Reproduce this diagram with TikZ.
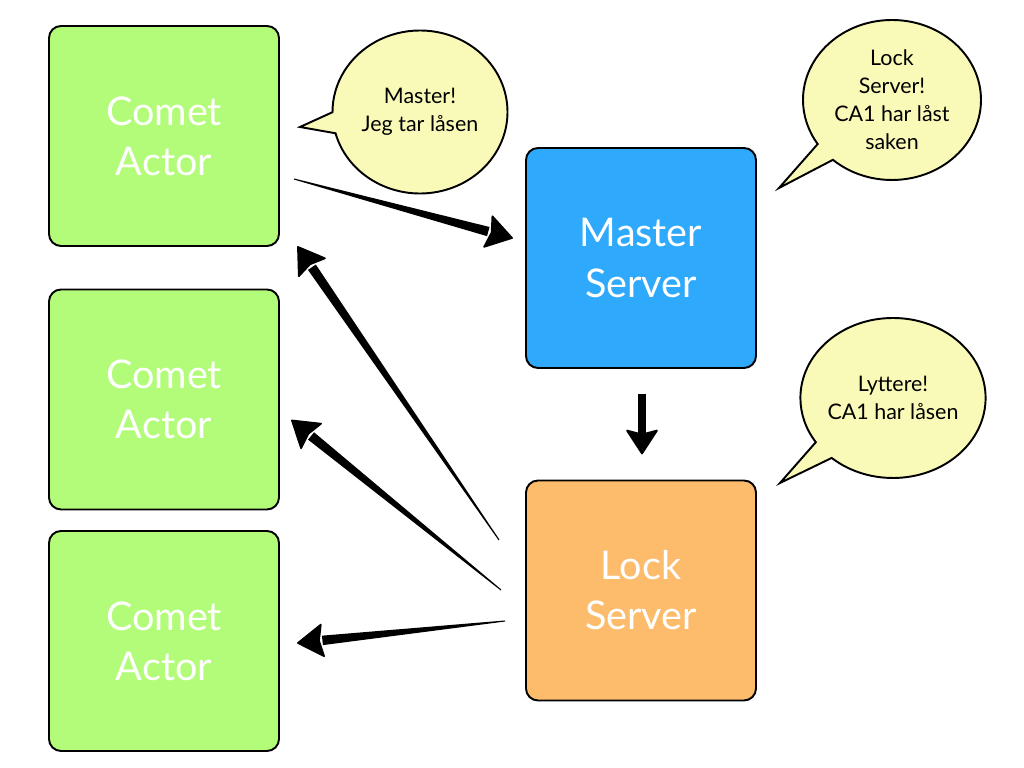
\documentclass[tikz,border=0pt]{standalone}
\usepackage{fontspec}
\setmainfont{Lato}
\usetikzlibrary{calc, shapes.callouts}

\definecolor{actorgreen}{HTML}{B3FC79}
\definecolor{masterblue}{HTML}{2FA9FC}
\definecolor{lockorange}{HTML}{FDBC6C}
\definecolor{bubbleyellow}{HTML}{FAFAB8}

\tikzset{
  box/.style={draw=black, line width=1.1pt, rounded corners=0.24cm,
    minimum width=4.6cm, minimum height=4.4cm, align=center,
    text=white, font=\fontsize{22.5}{28.5}\selectfont},
  bubble/.style={ellipse callout, draw=black, line width=1.1pt,
    fill=bubbleyellow, align=center, inner sep=0pt,
    font=\fontsize{12.2}{16}\selectfont},
}

% tapered brush arrow from #1 to #2
\newcommand{\brusharrow}[2]{%
  \coordinate (bA) at (#1);
  \coordinate (bB) at (#2);
  \coordinate (bC) at ($(bB)!14pt!(bA)$);
  \fill ($(bA)!0.3pt!90:(bB)$) -- ($(bC)!2.7pt!-90:(bA)$)
    -- ($(bC)!2.7pt!90:(bA)$) -- ($(bA)!0.3pt!-90:(bB)$) -- cycle;
  \fill[line join=round, draw, line width=1pt]
    ($(bC)!9pt!90:(bA)$) -- (bB) -- ($(bC)!9pt!-90:(bA)$)
    -- ($(bC)!2pt!(bB)$) -- cycle;
}

\begin{document}
\begin{tikzpicture}
  \useasboundingbox[fill=white] (0,0) rectangle (20.48,15.36);

  % Actors
  \node[box, fill=actorgreen] (actorA) at (3.28,12.64) {Comet\\Actor};
  \node[box, fill=actorgreen] (actorB) at (3.28,7.37) {Comet\\Actor};
  \node[box, fill=actorgreen] (actorC) at (3.28,2.54) {Comet\\Actor};

  % Servers
  \node[box, fill=masterblue] (master) at (12.82,10.2) {Master\\Server};
  \node[box, fill=lockorange] (lock) at (12.82,3.55) {Lock\\Server};

  % Speech bubbles
  \node[bubble, minimum width=3.5cm, minimum height=3.26cm,
    callout absolute pointer={(6.0,12.82)}] (bubA) at (8.4,13.12)
    {Master!\\Jeg tar låsen};
  \node[bubble, minimum width=3.56cm, minimum height=3.2cm,
    callout absolute pointer={(15.58,11.6)}] (bubB) at (17.84,13.36)
    {Lock\\Server!\\CA1 har låst\\saken};
  \node[bubble, minimum width=3.52cm, minimum height=3.2cm,
    callout absolute pointer={(15.6,5.7)}] (bubC) at (17.86,7.4)
    {Lyttere!\\CA1 har låsen};

  % Arrows
  \coordinate (a1s) at ($(actorA.east)+(0.28,-0.86)$);
  \coordinate (a1e) at ($(master.west)+(-0.26,0.4)$);
  \coordinate (a2s) at ($(lock.west)+(-0.52,1.01)$);
  \coordinate (a2e) at ($(actorA.south east)+(0.36,0.0)$);
  \coordinate (a3s) at ($(lock.west)+(-0.48,0.01)$);
  \coordinate (a3e) at ($(actorB.east)+(0.24,-0.42)$);
  \coordinate (a4s) at ($(lock.west)+(-0.4,-0.61)$);
  \coordinate (a4e) at ($(actorC.east)+(0.36,-0.04)$);
  \coordinate (a5s) at ($(master.south)+(0.02,-0.5)$);
  \coordinate (a5e) at ($(lock.north)+(0.02,0.52)$);

  \brusharrow{a1s}{a1e}
  \brusharrow{a2s}{a2e}
  \brusharrow{a3s}{a3e}
  \brusharrow{a4s}{a4e}
  \draw[line width=4pt] (a5s) -- ($(a5e)+(0,0.4)$);
  \fill[line join=round, draw, line width=1pt]
    ($(a5e)+(-0.3,0.46)$) -- (a5e) -- ($(a5e)+(0.3,0.46)$)
    -- ($(a5e)+(0,0.38)$) -- cycle;
\end{tikzpicture}
\end{document}
